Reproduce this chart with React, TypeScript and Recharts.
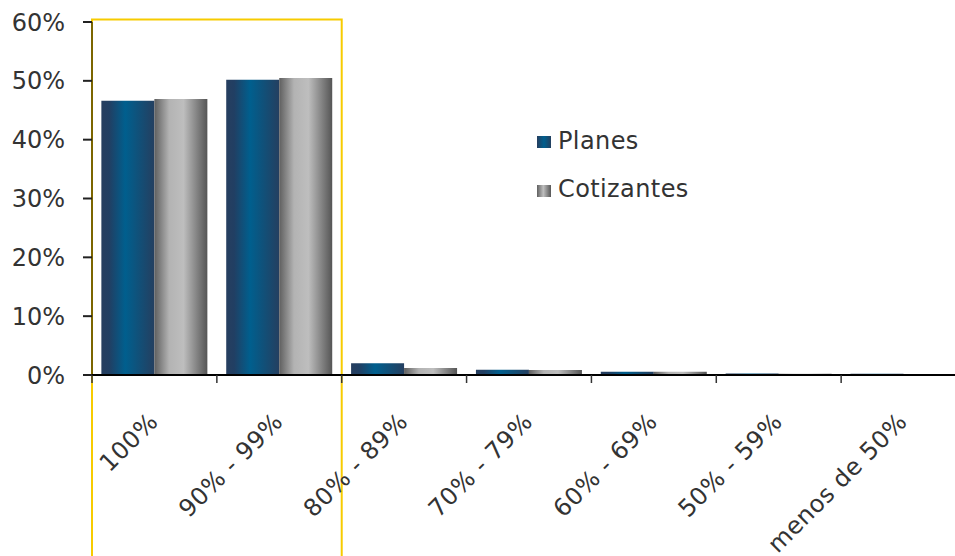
import React from "react";
import {
  BarChart,
  Bar,
  XAxis,
  YAxis,
  Legend,
  ReferenceArea,
} from "recharts";

const categories = [
  "100%",
  "90% - 99%",
  "80% - 89%",
  "70% - 79%",
  "60% - 69%",
  "50% - 59%",
  "menos de 50%",
];
const planes = [46.6, 50.2, 2.0, 0.9, 0.55, 0.25, 0.2];
const cotizantes = [46.9, 50.5, 1.2, 0.85, 0.55, 0.2, 0.15];
const yTicks = [0, 10, 20, 30, 40, 50, 60];

const data = categories.map((name, i) => ({
  name,
  planes: planes[i],
  cotizantes: cotizantes[i],
}));

const FONT = "'DejaVu Sans', Verdana, sans-serif";
const YELLOW = "#F7CB00";

function CategoryTick(props: any) {
  const { x, y, payload, index, width } = props;
  const half =
    payload && typeof payload.offset === "number" && payload.offset > 0
      ? payload.offset
      : width / categories.length / 2;
  const tx = x + 5;
  const ty = y + 48;
  return (
    <g>
      <line x1={x - half} x2={x - half} y1={y} y2={y + 8} stroke="#333" strokeWidth={1.5} />
      {index === categories.length - 1 && (
        <line x1={x + half} x2={x + half} y1={y} y2={y + 8} stroke="#333" strokeWidth={1.5} />
      )}
      <text
        x={tx}
        y={ty}
        textAnchor="end"
        transform={`rotate(-45, ${tx}, ${ty})`}
        fontFamily={FONT}
        fontSize={24}
        letterSpacing={0.5}
        fill="#333"
      >
        {payload.value}
      </text>
    </g>
  );
}

function Highlight(props: any) {
  const { x, y, width, height } = props;
  const top = y - 2.5;
  const bottom = y + height + 400;
  return (
    <path
      d={`M${x},${bottom} L${x},${top} L${x + width},${top} L${x + width},${bottom}`}
      fill="none"
      stroke={YELLOW}
      strokeWidth={2}
    />
  );
}

function LegendBox() {
  const items = [
    { label: "Planes", fill: "url(#lgPlanes)" },
    { label: "Cotizantes", fill: "url(#lgCotiz)" },
  ];
  return (
    <svg width={220} height={90}>
      <defs>
        <linearGradient id="lgPlanes" x1="0" y1="0" x2="1" y2="0">
          <stop offset="0%" stopColor="#263E5F" />
          <stop offset="50%" stopColor="#005F8E" />
          <stop offset="100%" stopColor="#24405F" />
        </linearGradient>
        <linearGradient id="lgCotiz" x1="0" y1="0" x2="1" y2="0">
          <stop offset="0%" stopColor="#606060" />
          <stop offset="45%" stopColor="#BEBEBE" />
          <stop offset="100%" stopColor="#575757" />
        </linearGradient>
      </defs>
      {items.map((it, i) => (
        <g key={it.label}>
          <rect x={7} y={12 + i * 49} width={14} height={12} fill={it.fill} />
          <text
            x={28}
            y={25 + i * 48}
            fontFamily={FONT}
            fontSize={24}
            letterSpacing={0.4}
            fill="#333"
          >
            {it.label}
          </text>
        </g>
      ))}
    </svg>
  );
}

export default function App() {
  return (
    <div
      style={{
        position: "fixed",
        left: 0,
        top: 0,
        width: 955,
        height: 556,
        overflow: "hidden",
        background: "#fff",
      }}
    >
      <BarChart
        width={970}
        height={556}
        data={data}
        margin={{ top: 22, right: 4, bottom: 0, left: 0 }}
        barCategoryGap="7.5%"
        barGap={0}
      >
        <defs>
          <linearGradient id="gPlanes" x1="0" y1="0" x2="1" y2="0">
            <stop offset="0%" stopColor="#263E5F" />
            <stop offset="15%" stopColor="#213F63" />
            <stop offset="45%" stopColor="#005F8E" />
            <stop offset="100%" stopColor="#243F60" />
          </linearGradient>
          <linearGradient id="gCotiz" x1="0" y1="0" x2="1" y2="0">
            <stop offset="0%" stopColor="#5F5F5F" />
            <stop offset="28%" stopColor="#B3B3B3" />
            <stop offset="55%" stopColor="#BEBEBE" />
            <stop offset="100%" stopColor="#555555" />
          </linearGradient>
        </defs>
        <XAxis
          dataKey="name"
          height={181}
          interval={0}
          tickSize={0}
          tickMargin={0}
          tickLine={false}
          axisLine={{ stroke: "#000", strokeWidth: 2 }}
          tick={<CategoryTick />}
        />
        <YAxis
          width={92}
          domain={[0, 60]}
          ticks={yTicks}
          interval={0}
          tickSize={9}
          tickMargin={18}
          tickFormatter={(v) => `${v}%`}
          tickLine={{ stroke: "#222", strokeWidth: 2 }}
          axisLine={{ stroke: "#000", strokeWidth: 1 }}
          tick={{ fontSize: 24, fontFamily: FONT, fill: "#333" }}
        />
        <Legend
          layout="vertical"
          align="center"
          verticalAlign="middle"
          wrapperStyle={{ left: 530, top: 124, width: 220, height: 90 }}
          content={() => <LegendBox />}
        />
        <Bar dataKey="planes" name="Planes" fill="url(#gPlanes)" isAnimationActive={false} />
        <Bar dataKey="cotizantes" name="Cotizantes" fill="url(#gCotiz)" isAnimationActive={false} />
        <ReferenceArea
          x1="100%"
          x2="90% - 99%"
          ifOverflow="visible"
          shape={<Highlight />}
        />
      </BarChart>
    </div>
  );
}
